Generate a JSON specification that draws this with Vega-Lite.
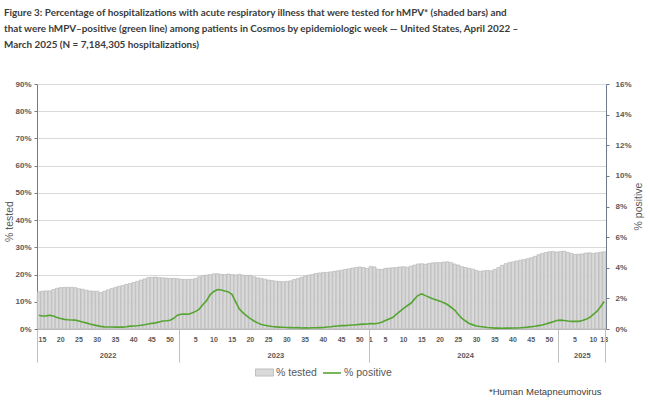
{
  "$schema": "https://vega.github.io/schema/vega-lite/v6.json",
  "width": 569,
  "height": 245,
  "autosize": {"type": "none"},
  "padding": {"left": 37, "top": 84, "right": 44, "bottom": 71},
  "background": "white",
  "title": {
    "text": [
      "Figure 3: Percentage of hospitalizations with acute respiratory illness that were tested for hMPV* (shaded bars) and",
      "that were hMPV–positive (green line) among patients in Cosmos by epidemiologic week — United States, April 2022 –",
      "March 2025 (N = 7,184,305 hospitalizations)"
    ],
    "anchor": "start",
    "frame": "group",
    "dx": -33,
    "offset": 30,
    "font": "Lato",
    "fontSize": 9.9,
    "fontWeight": "bold",
    "color": "#3b3b3b",
    "lineHeight": 16
  },
  "config": {
    "view": {"stroke": null},
    "axis": {"labelFont": "Liberation Sans", "titleFont": "Liberation Sans"},
    "legend": {"labelFont": "Liberation Sans"}
  },
  "data": {
    "values": [
      {"wk": "2022-14", "tested": 13.7, "positive": 0.90},
      {"wk": "2022-15", "tested": 13.9, "positive": 0.85},
      {"wk": "2022-16", "tested": 14.0, "positive": 0.86},
      {"wk": "2022-17", "tested": 14.0, "positive": 0.90},
      {"wk": "2022-18", "tested": 14.5, "positive": 0.85},
      {"wk": "2022-19", "tested": 15.0, "positive": 0.75},
      {"wk": "2022-20", "tested": 15.2, "positive": 0.68},
      {"wk": "2022-21", "tested": 15.3, "positive": 0.63},
      {"wk": "2022-22", "tested": 15.3, "positive": 0.60},
      {"wk": "2022-23", "tested": 15.3, "positive": 0.59},
      {"wk": "2022-24", "tested": 15.2, "positive": 0.58},
      {"wk": "2022-25", "tested": 14.8, "positive": 0.52},
      {"wk": "2022-26", "tested": 14.6, "positive": 0.46},
      {"wk": "2022-27", "tested": 14.3, "positive": 0.40},
      {"wk": "2022-28", "tested": 14.0, "positive": 0.33},
      {"wk": "2022-29", "tested": 13.9, "positive": 0.27},
      {"wk": "2022-30", "tested": 13.9, "positive": 0.22},
      {"wk": "2022-31", "tested": 13.4, "positive": 0.17},
      {"wk": "2022-32", "tested": 13.9, "positive": 0.14},
      {"wk": "2022-33", "tested": 14.4, "positive": 0.13},
      {"wk": "2022-34", "tested": 14.9, "positive": 0.13},
      {"wk": "2022-35", "tested": 15.3, "positive": 0.12},
      {"wk": "2022-36", "tested": 15.7, "positive": 0.13},
      {"wk": "2022-37", "tested": 16.0, "positive": 0.12},
      {"wk": "2022-38", "tested": 16.4, "positive": 0.15},
      {"wk": "2022-39", "tested": 16.7, "positive": 0.19},
      {"wk": "2022-40", "tested": 17.1, "positive": 0.20},
      {"wk": "2022-41", "tested": 17.5, "positive": 0.21},
      {"wk": "2022-42", "tested": 18.0, "positive": 0.24},
      {"wk": "2022-43", "tested": 18.4, "positive": 0.28},
      {"wk": "2022-44", "tested": 18.9, "positive": 0.33},
      {"wk": "2022-45", "tested": 19.0, "positive": 0.37},
      {"wk": "2022-46", "tested": 19.1, "positive": 0.40},
      {"wk": "2022-47", "tested": 18.9, "positive": 0.46},
      {"wk": "2022-48", "tested": 18.8, "positive": 0.52},
      {"wk": "2022-49", "tested": 18.7, "positive": 0.54},
      {"wk": "2022-50", "tested": 18.6, "positive": 0.57},
      {"wk": "2022-51", "tested": 18.6, "positive": 0.70},
      {"wk": "2022-52", "tested": 18.5, "positive": 0.90},
      {"wk": "2023-01", "tested": 18.3, "positive": 0.96},
      {"wk": "2023-02", "tested": 18.2, "positive": 0.98},
      {"wk": "2023-03", "tested": 18.2, "positive": 0.96},
      {"wk": "2023-04", "tested": 18.3, "positive": 1.05},
      {"wk": "2023-05", "tested": 18.6, "positive": 1.15},
      {"wk": "2023-06", "tested": 19.2, "positive": 1.30},
      {"wk": "2023-07", "tested": 19.6, "positive": 1.60},
      {"wk": "2023-08", "tested": 19.8, "positive": 1.85},
      {"wk": "2023-09", "tested": 20.0, "positive": 2.25},
      {"wk": "2023-10", "tested": 20.3, "positive": 2.45},
      {"wk": "2023-11", "tested": 20.3, "positive": 2.58},
      {"wk": "2023-12", "tested": 20.1, "positive": 2.55},
      {"wk": "2023-13", "tested": 20.0, "positive": 2.48},
      {"wk": "2023-14", "tested": 20.2, "positive": 2.42},
      {"wk": "2023-15", "tested": 20.0, "positive": 2.25},
      {"wk": "2023-16", "tested": 19.9, "positive": 1.75},
      {"wk": "2023-17", "tested": 20.1, "positive": 1.30},
      {"wk": "2023-18", "tested": 19.8, "positive": 1.05},
      {"wk": "2023-19", "tested": 19.6, "positive": 0.85},
      {"wk": "2023-20", "tested": 19.7, "positive": 0.68},
      {"wk": "2023-21", "tested": 19.2, "positive": 0.52},
      {"wk": "2023-22", "tested": 18.8, "positive": 0.40},
      {"wk": "2023-23", "tested": 18.6, "positive": 0.30},
      {"wk": "2023-24", "tested": 18.3, "positive": 0.24},
      {"wk": "2023-25", "tested": 18.0, "positive": 0.20},
      {"wk": "2023-26", "tested": 17.8, "positive": 0.16},
      {"wk": "2023-27", "tested": 17.6, "positive": 0.14},
      {"wk": "2023-28", "tested": 17.5, "positive": 0.12},
      {"wk": "2023-29", "tested": 17.4, "positive": 0.11},
      {"wk": "2023-30", "tested": 17.5, "positive": 0.10},
      {"wk": "2023-31", "tested": 17.7, "positive": 0.09},
      {"wk": "2023-32", "tested": 18.2, "positive": 0.08},
      {"wk": "2023-33", "tested": 18.5, "positive": 0.09},
      {"wk": "2023-34", "tested": 19.0, "positive": 0.07},
      {"wk": "2023-35", "tested": 19.4, "positive": 0.08},
      {"wk": "2023-36", "tested": 19.8, "positive": 0.07},
      {"wk": "2023-37", "tested": 20.1, "positive": 0.08},
      {"wk": "2023-38", "tested": 20.4, "positive": 0.08},
      {"wk": "2023-39", "tested": 20.6, "positive": 0.09},
      {"wk": "2023-40", "tested": 20.8, "positive": 0.10},
      {"wk": "2023-41", "tested": 20.8, "positive": 0.13},
      {"wk": "2023-42", "tested": 21.0, "positive": 0.15},
      {"wk": "2023-43", "tested": 21.2, "positive": 0.18},
      {"wk": "2023-44", "tested": 21.4, "positive": 0.20},
      {"wk": "2023-45", "tested": 21.6, "positive": 0.22},
      {"wk": "2023-46", "tested": 21.9, "positive": 0.22},
      {"wk": "2023-47", "tested": 22.1, "positive": 0.24},
      {"wk": "2023-48", "tested": 22.4, "positive": 0.26},
      {"wk": "2023-49", "tested": 22.6, "positive": 0.28},
      {"wk": "2023-50", "tested": 22.8, "positive": 0.30},
      {"wk": "2023-51", "tested": 22.6, "positive": 0.32},
      {"wk": "2023-52", "tested": 22.3, "positive": 0.33},
      {"wk": "2024-01", "tested": 23.0, "positive": 0.35},
      {"wk": "2024-02", "tested": 22.8, "positive": 0.34},
      {"wk": "2024-03", "tested": 22.0, "positive": 0.38},
      {"wk": "2024-04", "tested": 21.9, "positive": 0.44},
      {"wk": "2024-05", "tested": 22.3, "positive": 0.55},
      {"wk": "2024-06", "tested": 22.4, "positive": 0.65},
      {"wk": "2024-07", "tested": 22.5, "positive": 0.75},
      {"wk": "2024-08", "tested": 22.6, "positive": 0.95},
      {"wk": "2024-09", "tested": 22.8, "positive": 1.15},
      {"wk": "2024-10", "tested": 22.9, "positive": 1.35},
      {"wk": "2024-11", "tested": 22.7, "positive": 1.52},
      {"wk": "2024-12", "tested": 23.1, "positive": 1.68},
      {"wk": "2024-13", "tested": 23.5, "positive": 1.95},
      {"wk": "2024-14", "tested": 23.9, "positive": 2.20},
      {"wk": "2024-15", "tested": 24.0, "positive": 2.29},
      {"wk": "2024-16", "tested": 23.8, "positive": 2.18},
      {"wk": "2024-17", "tested": 24.1, "positive": 2.08},
      {"wk": "2024-18", "tested": 24.3, "positive": 1.98},
      {"wk": "2024-19", "tested": 24.4, "positive": 1.90},
      {"wk": "2024-20", "tested": 24.4, "positive": 1.82},
      {"wk": "2024-21", "tested": 24.6, "positive": 1.72},
      {"wk": "2024-22", "tested": 24.7, "positive": 1.60},
      {"wk": "2024-23", "tested": 24.4, "positive": 1.42},
      {"wk": "2024-24", "tested": 23.9, "positive": 1.24},
      {"wk": "2024-25", "tested": 23.5, "positive": 0.95},
      {"wk": "2024-26", "tested": 22.9, "positive": 0.70},
      {"wk": "2024-27", "tested": 22.6, "positive": 0.52},
      {"wk": "2024-28", "tested": 22.3, "positive": 0.36},
      {"wk": "2024-29", "tested": 22.0, "positive": 0.27},
      {"wk": "2024-30", "tested": 21.5, "positive": 0.20},
      {"wk": "2024-31", "tested": 21.2, "positive": 0.16},
      {"wk": "2024-32", "tested": 21.4, "positive": 0.13},
      {"wk": "2024-33", "tested": 21.5, "positive": 0.10},
      {"wk": "2024-34", "tested": 21.4, "positive": 0.08},
      {"wk": "2024-35", "tested": 21.9, "positive": 0.06},
      {"wk": "2024-36", "tested": 22.6, "positive": 0.06},
      {"wk": "2024-37", "tested": 23.4, "positive": 0.05},
      {"wk": "2024-38", "tested": 24.0, "positive": 0.06},
      {"wk": "2024-39", "tested": 24.4, "positive": 0.06},
      {"wk": "2024-40", "tested": 24.7, "positive": 0.07},
      {"wk": "2024-41", "tested": 25.0, "positive": 0.07},
      {"wk": "2024-42", "tested": 25.3, "positive": 0.08},
      {"wk": "2024-43", "tested": 25.5, "positive": 0.10},
      {"wk": "2024-44", "tested": 25.8, "positive": 0.12},
      {"wk": "2024-45", "tested": 26.2, "positive": 0.15},
      {"wk": "2024-46", "tested": 26.7, "positive": 0.18},
      {"wk": "2024-47", "tested": 27.3, "positive": 0.22},
      {"wk": "2024-48", "tested": 27.8, "positive": 0.26},
      {"wk": "2024-49", "tested": 28.1, "positive": 0.32},
      {"wk": "2024-50", "tested": 28.4, "positive": 0.40},
      {"wk": "2024-51", "tested": 28.5, "positive": 0.48},
      {"wk": "2024-52", "tested": 28.3, "positive": 0.56},
      {"wk": "2025-01", "tested": 28.5, "positive": 0.58},
      {"wk": "2025-02", "tested": 28.6, "positive": 0.55},
      {"wk": "2025-03", "tested": 28.2, "positive": 0.52},
      {"wk": "2025-04", "tested": 27.8, "positive": 0.50},
      {"wk": "2025-05", "tested": 27.4, "positive": 0.50},
      {"wk": "2025-06", "tested": 27.5, "positive": 0.50},
      {"wk": "2025-07", "tested": 27.6, "positive": 0.55},
      {"wk": "2025-08", "tested": 27.9, "positive": 0.63},
      {"wk": "2025-09", "tested": 28.0, "positive": 0.75},
      {"wk": "2025-10", "tested": 27.8, "positive": 0.95},
      {"wk": "2025-11", "tested": 28.0, "positive": 1.15},
      {"wk": "2025-12", "tested": 28.2, "positive": 1.45},
      {"wk": "2025-13", "tested": 28.4, "positive": 1.80}
    ]
  },
  "layer": [
    {
      "mark": {"type": "bar", "stroke": "#a6a6a6", "strokeWidth": 0.5},
      "encoding": {
        "x": {
          "field": "wk",
          "type": "ordinal",
          "scale": {"paddingInner": 0.12, "paddingOuter": 0.05},
          "axis": {
            "orient": "bottom",
            "offset": 0,
            "title": null,
            "values": ["2022-15", "2022-20", "2022-25", "2022-30", "2022-35", "2022-40", "2022-45", "2022-50",
                       "2023-05", "2023-10", "2023-15", "2023-20", "2023-25", "2023-30", "2023-35", "2023-40", "2023-45", "2023-50",
                       "2024-01", "2024-05", "2024-10", "2024-15", "2024-20", "2024-25", "2024-30", "2024-35", "2024-40", "2024-45", "2024-50",
                       "2025-05", "2025-10", "2025-13"],
            "labelExpr": "'' + toNumber(substring(datum.value, 5))",
            "labelAngle": 0,
            "labelFontSize": 7,
            "labelFontWeight": "bold",
            "labelColor": "#595959",
            "labelOverlap": false,
            "labelBound": false,
            "ticks": false,
            "tickSize": 0,
            "labelPadding": 6,
            "domainColor": "#bfbfbf",
            "grid": false
          }
        },
        "y": {
          "field": "tested",
          "type": "quantitative",
          "scale": {"domain": [0, 90], "nice": false},
          "axis": {
            "title": "% tested",
            "values": [0, 10, 20, 30, 40, 50, 60, 70, 80, 90],
            "labelExpr": "datum.value + '%'",
            "grid": true,
            "gridColor": "#d9d9d9",
            "domainColor": "#6e7b8b",
            "tickColor": "#6e7b8b",
            "tickSize": 3,
            "labelFontSize": 8,
            "labelFontWeight": "bold",
            "labelColor": "#595959",
            "labelPadding": 3,
            "titleFontSize": 10.5,
            "titleFontWeight": "normal",
            "titleColor": "#595959",
            "titleAngle": -90,
            "titleAlign": "center",
            "titleBaseline": "middle",
            "titleX": -28,
            "titleY": 137
          }
        },
        "fill": {
          "datum": "% tested",
          "scale": {"domain": ["% tested"], "range": ["#d9d9d9"]},
          "legend": {
            "orient": "none",
            "legendX": 218,
            "legendY": 279,
            "title": null,
            "labelFontSize": 10.5,
            "labelColor": "#595959",
            "symbolType": "M-1,-0.4H1V0.4H-1Z",
            "symbolSize": 324,
            "symbolStrokeColor": "#a6a6a6",
            "symbolStrokeWidth": 0.6,
            "labelOffset": 2
          }
        }
      }
    },
    {
      "mark": {"type": "line", "strokeWidth": 1.6},
      "encoding": {
        "x": {
          "field": "wk",
          "type": "ordinal",
          "axis": {
            "orient": "bottom",
            "offset": 0,
            "values": ["2022-33", "2023-27", "2024-27", "2025-07"],
            "labelExpr": "substring(datum.value, 0, 4)",
            "labelAngle": 0,
            "labelFontSize": 7.5,
            "labelFontWeight": "bold",
            "labelColor": "#595959",
            "labelOverlap": false,
            "ticks": false,
            "tickSize": 0,
            "domain": false,
            "grid": false,
            "labelPadding": 22,
            "title": "*Human Metapneumovirus",
            "titleX": 564,
            "titleY": 62,
            "titleAlign": "right",
            "titleBaseline": "middle",
            "titleFontSize": 9.5,
            "titleFontWeight": "normal",
            "titleColor": "#404040"
          }
        },
        "y": {
          "field": "positive",
          "type": "quantitative",
          "scale": {"domain": [0, 16], "nice": false},
          "axis": {
            "orient": "right",
            "title": "% positive",
            "values": [0, 2, 4, 6, 8, 10, 12, 14, 16],
            "labelExpr": "datum.value + '%'",
            "grid": false,
            "domainColor": "#6e7b8b",
            "tickColor": "#6e7b8b",
            "tickSize": 3,
            "labelFontSize": 8,
            "labelFontWeight": "bold",
            "labelColor": "#595959",
            "labelPadding": 6,
            "titleFontSize": 10.5,
            "titleFontWeight": "normal",
            "titleColor": "#595959",
            "titleAngle": -90,
            "titleAlign": "center",
            "titleBaseline": "middle",
            "titleX": 32,
            "titleY": 122
          }
        },
        "stroke": {
          "datum": "% positive",
          "scale": {"domain": ["% positive"], "range": ["#56a532"]},
          "legend": {
            "orient": "none",
            "legendX": 285,
            "legendY": 279,
            "title": null,
            "labelFontSize": 10.5,
            "labelColor": "#595959",
            "symbolType": "stroke",
            "symbolSize": 324,
            "symbolStrokeWidth": 1.6,
            "labelOffset": 2
          }
        }
      }
    },
    {
      "mark": {"type": "rule", "opacity": 0},
      "encoding": {
        "x": {
          "field": "wk",
          "type": "ordinal",
          "axis": {
            "orient": "bottom",
            "offset": 0,
            "values": ["2022-14", "2023-01", "2024-01", "2025-01"],
            "bandPosition": 0,
            "labels": false,
            "domain": false,
            "grid": false,
            "ticks": true,
            "tickSize": 33,
            "tickColor": "#bfbfbf",
            "title": null
          }
        }
      }
    },
    {
      "mark": {"type": "rule", "opacity": 0},
      "encoding": {
        "x": {
          "field": "wk",
          "type": "ordinal",
          "axis": {
            "orient": "bottom",
            "offset": 0,
            "values": ["2025-13"],
            "bandPosition": 1,
            "labels": false,
            "domain": false,
            "grid": false,
            "ticks": true,
            "tickSize": 33,
            "tickColor": "#bfbfbf",
            "title": null
          }
        }
      }
    }
  ],
  "resolve": {"scale": {"y": "independent"}, "axis": {"x": "independent"}}
}
